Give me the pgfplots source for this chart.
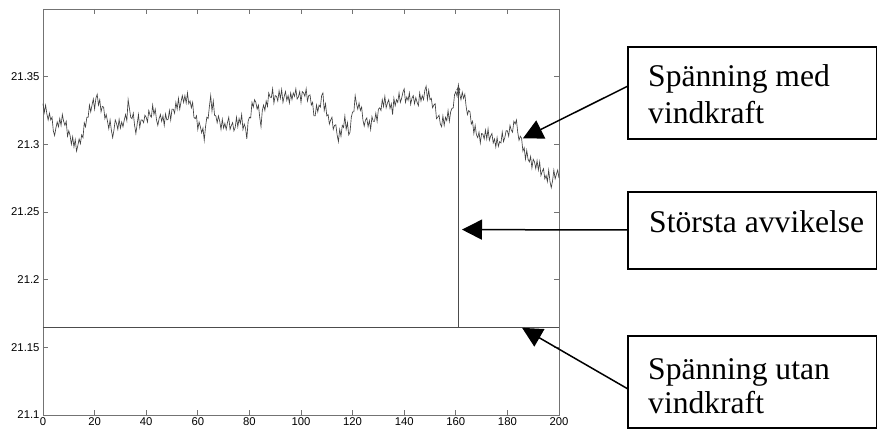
\documentclass[border=0pt]{standalone}
\usepackage{fontspec}
\setmainfont{Liberation Serif}
\newfontfamily\arial{Liberation Sans}
\usepackage{pgfplots}
\pgfplotsset{compat=1.18}
\usetikzlibrary{arrows.meta}
\begin{document}
\begin{tikzpicture}[x=1bp,y=1bp]
\useasboundingbox (-43,-15) rectangle (834,415);
\begin{axis}[at={(0,0)}, anchor=south west, scale only axis,
  width=516bp, height=406bp,
  xmin=0, xmax=200, ymin=21.1, ymax=21.4,
  xtick={0,20,40,60,80,100,120,140,160,180,200},
  xticklabels={0,20,40,60,80,100,120,140,160,180,200},
  ytick={21.1,21.15,21.2,21.25,21.3,21.35},
  yticklabels={21.1,21.15,21.2,21.25,21.3,21.35},
  tick align=inside, major tick length=5bp,
  axis line style={black!55, line width=0.8bp},
  every tick/.style={black!55, line width=0.8bp},
  tick label style={font=\arial\fontsize{11.3bp}{13bp}\selectfont, black},
  xticklabel style={yshift=1bp},
  /pgf/number format/assume math mode=true,
  clip=false]
\addplot[black!75, line width=0.65bp] coordinates {
(0,21.330) (0.5,21.3235) (1,21.329) (1.5,21.3225) (2,21.318) (2.5,21.323) (3,21.318) (3.5,21.320) (4,21.310) (4.5,21.3065)
(5,21.312) (5.5,21.3165) (6,21.313) (6.5,21.319) (7,21.314) (7.5,21.322) (8,21.317) (8.5,21.314) (9,21.317) (9.5,21.306)
(10,21.310) (10.5,21.3065) (11,21.300) (11.5,21.3055) (12,21.298) (12.5,21.3035) (13,21.295) (13.5,21.299) (14,21.304) (14.5,21.3005)
(15,21.307) (15.5,21.305) (16,21.316) (16.5,21.313) (17,21.320) (17.5,21.320) (18,21.329) (18.5,21.324) (19,21.329) (19.5,21.3335)
(20,21.326) (20.5,21.334) (21,21.337) (21.5,21.329) (22,21.333) (22.5,21.324) (23,21.328) (23.5,21.3275) (24,21.319) (24.5,21.322)
(25,21.317) (25.5,21.3115) (26,21.318) (26.5,21.3105) (27,21.305) (27.5,21.3105) (28,21.318) (28.5,21.3155) (29,21.311) (29.5,21.3185)
(30,21.312) (30.5,21.3165) (31,21.313) (31.5,21.318) (32,21.322) (32.5,21.3175) (33,21.333) (33.5,21.3265) (34,21.320) (34.5,21.319)
(35,21.323) (35.5,21.314) (36,21.308) (36.5,21.315) (37,21.322) (37.5,21.3125) (38,21.318) (38.5,21.318) (39,21.316) (39.5,21.3215)
(40,21.320) (40.5,21.3165) (41,21.325) (41.5,21.3215) (42,21.320) (42.5,21.329) (43,21.322) (43.5,21.326) (44,21.318) (44.5,21.314)
(45,21.319) (45.5,21.322) (46,21.317) (46.5,21.321) (47,21.314) (47.5,21.3225) (48,21.318) (48.5,21.3185) (49,21.325) (49.5,21.318)
(50,21.326) (50.5,21.326) (51,21.323) (51.5,21.331) (52,21.326) (52.5,21.334) (53,21.326) (53.5,21.3315) (54,21.336) (54.5,21.331)
(55,21.336) (55.5,21.3305) (56,21.338) (56.5,21.330) (57,21.332) (57.5,21.327) (58,21.331) (58.5,21.320) (59,21.319) (59.5,21.321)
(60,21.311) (60.5,21.3165) (61,21.313) (61.5,21.3085) (62,21.312) (62.5,21.303) (63,21.313) (63.5,21.320) (64,21.319) (64.5,21.328)
(65,21.336) (65.5,21.3245) (66,21.332) (66.5,21.3215) (67,21.321) (67.5,21.316) (68,21.321) (68.5,21.317) (69,21.311) (69.5,21.3185)
(70,21.312) (70.5,21.3155) (71,21.311) (71.5,21.316) (72,21.320) (72.5,21.311) (73,21.314) (73.5,21.316) (74,21.310) (74.5,21.3125)
(75,21.320) (75.5,21.313) (76,21.319) (76.5,21.3155) (77,21.322) (77.5,21.311) (78,21.315) (78.5,21.312) (79,21.304) (79.5,21.317)
(80,21.320) (80.5,21.3195) (81,21.331) (81.5,21.3275) (82,21.333) (82.5,21.331) (83,21.326) (83.5,21.329) (84,21.320) (84.5,21.313)
(85,21.325) (85.5,21.329) (86,21.325) (86.5,21.332) (87,21.328) (87.5,21.338) (88,21.335) (88.5,21.3345) (89,21.341) (89.5,21.3305)
(90,21.336) (90.5,21.3355) (91,21.332) (91.5,21.3395) (92,21.334) (92.5,21.3405) (93,21.331) (93.5,21.3355) (94,21.339) (94.5,21.3325)
(95,21.336) (95.5,21.3305) (96,21.338) (96.5,21.333) (97,21.338) (97.5,21.3355) (98,21.341) (98.5,21.3335) (99,21.335) (99.5,21.339)
(100,21.331) (100.5,21.339) (101,21.338) (101.5,21.3355) (102,21.341) (102.5,21.332) (103,21.336) (103.5,21.3365) (104,21.329) (104.5,21.331)
(105,21.321) (105.5,21.321) (106,21.329) (106.5,21.324) (107,21.329) (107.5,21.3275) (108,21.336) (108.5,21.338) (109,21.325) (109.5,21.330)
(110,21.321) (110.5,21.322) (111,21.315) (111.5,21.318) (112,21.320) (112.5,21.311) (113,21.314) (113.5,21.3145) (114,21.307) (114.5,21.302)
(115,21.311) (115.5,21.306) (116,21.314) (116.5,21.3125) (117,21.321) (117.5,21.311) (118,21.316) (118.5,21.307) (119,21.309) (119.5,21.320)
(120,21.324) (120.5,21.324) (121,21.336) (121.5,21.330) (122,21.326) (122.5,21.3305) (123,21.325) (123.5,21.3275) (124,21.318) (124.5,21.3135)
(125,21.318) (125.5,21.3195) (126,21.313) (126.5,21.3175) (127,21.311) (127.5,21.3205) (128,21.317) (128.5,21.317) (129,21.323) (129.5,21.317)
(130,21.326) (130.5,21.327) (131,21.325) (131.5,21.333) (132,21.328) (132.5,21.3355) (133,21.327) (133.5,21.3305) (134,21.333) (134.5,21.3265)
(135,21.330) (135.5,21.322) (136,21.334) (136.5,21.3285) (137,21.333) (137.5,21.331) (138,21.338) (138.5,21.331) (139,21.334) (139.5,21.3385)
(140,21.341) (140.5,21.331) (141,21.335) (141.5,21.3325) (142,21.338) (142.5,21.3295) (143,21.334) (143.5,21.336) (144,21.330) (144.5,21.3345)
(145,21.331) (145.5,21.3285) (146,21.338) (146.5,21.332) (147,21.336) (147.5,21.333) (148,21.340) (148.5,21.343) (149,21.333) (149.5,21.340)
(150,21.333) (150.5,21.334) (151,21.327) (151.5,21.329) (152,21.330) (152.5,21.319) (153,21.320) (153.5,21.3215) (154,21.315) (154.5,21.313)
(155,21.321) (155.5,21.314) (156,21.320) (156.5,21.3175) (157,21.325) (157.5,21.317) (158,21.324) (158.5,21.3265) (159,21.327) (159.5,21.3365)
(160,21.339) (160.5,21.3355) (161,21.344) (161.5,21.3375) (162,21.333) (162.5,21.3385) (163,21.334) (163.5,21.337) (164,21.328) (164.5,21.322)
(165,21.325) (165.5,21.324) (166,21.315) (166.5,21.317) (167,21.308) (167.5,21.314) (168,21.307) (168.5,21.305) (169,21.309) (169.5,21.301)
(170,21.308) (170.5,21.3075) (171,21.304) (171.5,21.3105) (172,21.304) (172.5,21.3115) (173,21.303) (173.5,21.306) (174,21.308) (174.5,21.301)
(175,21.304) (175.5,21.298) (176,21.305) (176.5,21.2985) (177,21.302) (177.5,21.301) (178,21.309) (178.5,21.302) (179,21.305) (179.5,21.310)
(180,21.310) (180.5,21.306) (181,21.314) (181.5,21.3105) (182,21.309) (182.5,21.317) (183,21.315) (183.5,21.318) (184,21.309) (184.5,21.303)
(185,21.306) (185.5,21.3045) (186,21.295) (186.5,21.2975) (187,21.289) (187.5,21.2955) (188,21.289) (188.5,21.287) (189,21.291) (189.5,21.2825)
(190,21.289) (190.5,21.287) (191,21.282) (191.5,21.288) (192,21.281) (192.5,21.287) (193,21.277) (193.5,21.280) (194,21.282) (194.5,21.2745)
(195,21.277) (195.5,21.2725) (196,21.281) (196.5,21.2725) (197,21.268) (197.5,21.273) (198,21.281) (198.5,21.2745) (199,21.278) (199.5,21.281)
(200,21.275)};
\addplot[black!70, line width=0.8bp] coordinates {(0,21.165) (200,21.165)};
\addplot[black!70, line width=0.8bp, -{Triangle[length=4bp,width=4bp]}] coordinates {(161,21.165) (161,21.343)};
\coordinate (t1) at (axis cs:186,21.3044);
\coordinate (t2) at (axis cs:162.4,21.237);
\coordinate (t3) at (axis cs:185.7,21.1644);
\end{axis}
\draw[line width=1.3bp] (585,276) rectangle (833.3,368);
\draw[line width=1.3bp] (585,146) rectangle (833.3,223);
\draw[line width=1.3bp] (585,-13) rectangle (833.3,79);
\begin{scope}[every node/.style={anchor=base west, inner sep=0pt, font=\fontsize{31.6bp}{36bp}\selectfont}]
\node at (605,329) {Spänning med};
\node at (605,292) {vindkraft};
\node at (606,183) {Största avvikelse};
\node at (605,36) {Spänning utan};
\node at (605,2) {vindkraft};
\end{scope}
\draw[line width=1.5bp, -{Triangle[length=20bp,width=20bp]}] (585,329) -- (t1);
\draw[line width=1.5bp, -{Triangle[length=20bp,width=20bp]}] (585,185) -- (t2);
\draw[line width=1.5bp, -{Triangle[length=20bp,width=20bp]}] (585,26) -- (t3);
\end{tikzpicture}
\end{document}
